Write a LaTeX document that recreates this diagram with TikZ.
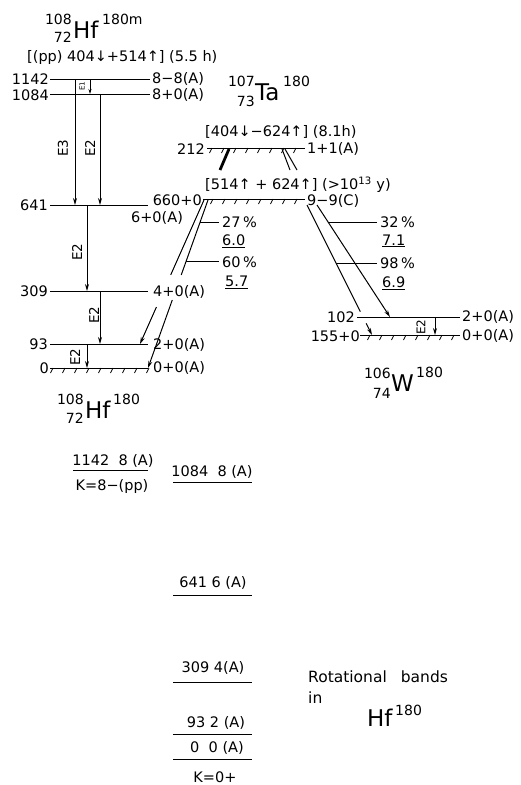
\documentclass[tikz,border=0pt]{standalone}
\usepackage{fontspec}
\setmainfont{DejaVu Sans}
\usetikzlibrary{arrows.meta,calc}
\newcommand{\fsz}[1]{\fontsize{#1}{#1}\selectfont}
\newcommand{\hatchticks}[2]{\foreach \hx in {#1} \draw[line width=0.8pt] (\hx,#2) -- ++(-2.5,5);}
\begin{document}
\begin{tikzpicture}[x=1pt,y=-1pt,
  lvl/.style={line width=1pt},
  trans/.style={line width=1pt,-{Stealth[length=7pt,width=4pt]}},
  plain/.style={line width=1pt},
  lab/.style={font=\fsz{14.5}, inner sep=0pt},
  elab/.style={font=\fsz{13.5}, inner sep=0pt, rotate=90},
  big/.style={font=\fsz{23}, inner sep=0pt},
  iso/.style={font=\fsz{14}, inner sep=0pt},
  band/.style={line width=1pt},
]
\useasboundingbox (0,0) rectangle (521,785);

% ---------- Hf180m ----------
\node[iso,anchor=east] (hfmA) at (72,19) {108};
\node[iso,anchor=east] (hfmZ) at (72,37) {72};
\node[big,anchor=west] (hfm) at (73,30) {Hf};
\node[iso,anchor=west] (hfmM) at (102,19) {180m};
\node[lab,anchor=west] (hfmconf) at (27,57) {[(pp) 404↓+514↑] (5.5 h)};

\coordinate (a1142) at (50,79);  \coordinate (b1142) at (150,79);
\coordinate (a1084) at (50,94);  \coordinate (b1084) at (150,94);
\coordinate (a641) at (50,205);  \coordinate (b641) at (148,205);
\coordinate (a309) at (50,291);  \coordinate (b309) at (148,291);
\coordinate (a93) at (50,344);   \coordinate (b93) at (148,344);
\coordinate (a0) at (50,368);    \coordinate (b0) at (148,368);

\draw[lvl] (a1142) -- (b1142);
\draw[lvl] (a1084) -- (b1084);
\draw[lvl] (a641) -- (b641);
\draw[lvl] (a309) -- (b309);
\draw[lvl] (a93) -- (b93);
\draw[lvl] (a0) -- (b0);
\hatchticks{53,65,...,149}{368}

\node[lab,anchor=east] (n1142) at ($(a1142)+(-1,0)$) {1142};
\node[lab,anchor=west] (s1142) at ($(b1142)+(2,0)$) {8−8(A)};
\node[lab,anchor=east] (n1084) at ($(a1084)+(-1,1)$) {1084};
\node[lab,anchor=west] (s1084) at ($(b1084)+(2,1)$) {8+0(A)};
\node[lab,anchor=east] (n641) at ($(a641)+(-2,0)$) {641};
\node[lab] (s641) at (157,218) {6+0(A)};
\node[lab,anchor=east] (n309) at ($(a309)+(-2,0)$) {309};
\node[lab,anchor=east] (n93) at ($(a93)+(-2,0)$) {93};
\node[lab,anchor=west] (s93) at ($(b93)+(5,1)$) {2+0(A)};
\node[lab,anchor=east] (n0) at ($(a0)+(-1,0)$) {0};
\node[lab,anchor=west] (s0) at ($(b0)+(5,0)$) {0+0(A)};

% gamma transitions in Hf
\coordinate (e1t) at (90,79);  \coordinate (e1b) at (90,94);
\coordinate (e3t) at (75,79);  \coordinate (e3b) at (75,205);
\coordinate (e2at) at (100,94); \coordinate (e2ab) at (100,205);
\coordinate (e2bt) at (87,205); \coordinate (e2bb) at (87,291);
\coordinate (e2ct) at (100,291); \coordinate (e2cb) at (100,344);
\coordinate (e2dt) at (87,344); \coordinate (e2db) at (87,368);
\draw[line width=1pt,-{Stealth[length=5pt,width=3pt]}] (e1t) -- (e1b);
\draw[trans] (e3t) -- (e3b);
\draw[trans] (e2at) -- (e2ab);
\draw[trans] (e2bt) -- (e2bb);
\draw[trans] (e2ct) -- (e2cb);
\draw[trans] (e2dt) -- (e2db);
\node[elab,font=\fsz{7}] (le1) at (82,86) {E1};
\node[elab] (le3) at (63,148) {E3};
\node[elab] (le2a) at (90,148) {E2};
\node[elab] (le2b) at (77,252) {E2};
\node[elab] (le2c) at (94,315) {E2};
\node[elab] (le2d) at (75,357) {E2};

\node[iso,anchor=east] (hfA) at (84,399) {108};
\node[iso,anchor=east] (hfZ) at (84,418) {72};
\node[big,anchor=west] (hf) at (85,410) {Hf};
\node[iso,anchor=west] (hfM) at (113,399) {180};

% ---------- Ta180 ----------
\node[iso,anchor=east] (taA) at (255,81) {107};
\node[iso,anchor=east] (taZ) at (255,101) {73};
\node[big,anchor=west] (ta) at (255,92) {Ta};
\node[iso,anchor=west] (taM) at (283,81) {180};

\node[lab,anchor=west] (taconf1) at (205,132) {[404↓−624↑] (8.1h)};
\coordinate (a212) at (207,148); \coordinate (b212) at (305,148);
\draw[lvl] (a212) -- (b212);
\hatchticks{212,224,...,300}{148}
\node[lab,anchor=east] (n212) at ($(a212)+(-2,1)$) {212};
\node[lab,anchor=west] (s212) at ($(b212)+(2,1)$) {1+1(A)};
\draw[line width=2.8pt] (229,149) -- (220,170);
\draw[line width=1pt] (282,149) -- (290,170);
\draw[line width=1pt] (285,149) -- (297,170);

\node[lab,anchor=west] (taconf2) at (205,185) {[514↑ + 624↑] (>10\textsuperscript{13} y)};
\coordinate (a660) at (203,199); \coordinate (b660) at (305,199);
\draw[lvl] (a660) -- (b660);
\hatchticks{213,225,...,297}{199}
\node[lab,anchor=east] (n660) at ($(a660)+(-1,1)$) {660+0};
\node[lab,anchor=west] (s660) at ($(b660)+(2,2)$) {9−9(C)};

% beta transitions to Hf
\coordinate (ta1) at (204,200); \coordinate (h2a) at (140,344);
\coordinate (ta2) at (208,200); \coordinate (h0a) at (148,368);
\draw[plain] (ta1) -- ($(ta1)!0.52!(h2a)$);
\draw[trans] ($(ta1)!0.743!(h2a)$) -- (h2a);
\draw[plain] (ta2) -- ($(ta2)!0.446!(h0a)$);
\draw[trans] ($(ta2)!0.595!(h0a)$) -- (h0a);
\node[lab,anchor=west] (s309) at ($(b309)+(5,1)$) {4+0(A)};

\node[lab,anchor=west] (p27) at (222,222) {27\,\%};
\node[lab,anchor=west] (f27) at (222,241) {\underline{6.0}};
\node[lab,anchor=west] (p60) at (222,262) {60\,\%};
\node[lab,anchor=west] (f60) at (225,282) {\underline{5.7}};
\coordinate (l27) at ($(ta2)!0.131!(h0a)$);
\coordinate (l60) at ($(ta2)!0.369!(h0a)$);
\draw[plain,shorten >=3pt] (l27) -- (l27 -| p27.west);
\draw[plain,shorten >=3pt] (l60) -- (l60 -| p60.west);

% beta transitions to W
\coordinate (wa) at (307,205); \coordinate (w0) at (372,335);
\coordinate (wb) at (317,205); \coordinate (w2) at (390,317);
\draw[plain] (wa) -- ($(wa)!0.82!(w0)$);
\draw[trans] ($(wa)!0.91!(w0)$) -- (w0);
\draw[trans] (wb) -- (w2);

\node[lab,anchor=west] (p32) at (380,222) {32\,\%};
\node[lab,anchor=west] (f32) at (382,241) {\underline{7.1}};
\node[lab,anchor=west] (p98) at (380,263) {98\,\%};
\node[lab,anchor=west] (f98) at (382,283) {\underline{6.9}};
\coordinate (l32) at ($(wb)!0.152!(w2)$);
\coordinate (l98) at ($(wa)!0.453!(w0)$);
\draw[plain,shorten >=3pt] (l32) -- (l32 -| p32.west);
\draw[plain,shorten >=3pt] (l98) -- (l98 -| p98.west);

% ---------- W180 ----------
\coordinate (a102) at (357,317); \coordinate (b102) at (460,317);
\coordinate (aw0) at (360,335);  \coordinate (bw0) at (460,335);
\draw[lvl] (a102) -- (b102);
\draw[lvl] (aw0) -- (bw0);
\hatchticks{370,382,...,454}{335}
\node[lab,anchor=east] (n102) at ($(a102)+(-2,0)$) {102};
\node[lab,anchor=west] (s102) at ($(b102)+(2,0)$) {2+0(A)};
\node[lab,anchor=east] (nw0) at ($(aw0)+(0,1)$) {155+0};
\node[lab,anchor=west] (sw0) at ($(bw0)+(2,1)$) {0+0(A)};
\coordinate (we2t) at (435,317); \coordinate (we2b) at (435,335);
\draw[trans] (we2t) -- (we2b);
\node[elab,font=\fsz{12}] (lwe2) at (421,327) {E2};

\node[iso,anchor=east] (wA) at (391,373) {106};
\node[iso,anchor=east] (wZ) at (391,393) {74};
\node[big,anchor=west] (w) at (391,383) {W};
\node[iso,anchor=west] (wM) at (416,372) {180};

% ---------- rotational bands ----------
\node[lab] (r1142) at (113,461) {1142\ \ 8 (A)};
\draw[band] (73,470) -- (148,470);
\node[lab] (k8) at (112,486) {K=8−(pp)};
\node[lab] (r1084) at (212,472) {1084\ \ 8 (A)};
\draw[band] (173,482) -- (252,482);
\node[lab] (r641) at (213,583) {641 6 (A)};
\draw[band] (173,595) -- (252,595);
\node[lab] (r309) at (213,668) {309 4(A)};
\draw[band] (173,682) -- (252,682);
\node[lab] (r93) at (216,723) {93 2 (A)};
\draw[band] (173,734) -- (252,734);
\node[lab] (r0) at (217,748) {0\ \ 0 (A)};
\draw[band] (173,759) -- (252,759);
\node[lab] (k0) at (215,777) {K=0+};

\node[lab,font=\fsz{15.5},anchor=west] (rot) at (308,677) {Rotational\hspace{14pt}bands};
\node[lab,font=\fsz{15.5},anchor=west] (rin) at (308,698) {in};
\node[big,anchor=west] (rhf) at (367,718) {Hf};
\node[iso,anchor=west] (rhfM) at (395,710) {180};
\end{tikzpicture}
\end{document}
